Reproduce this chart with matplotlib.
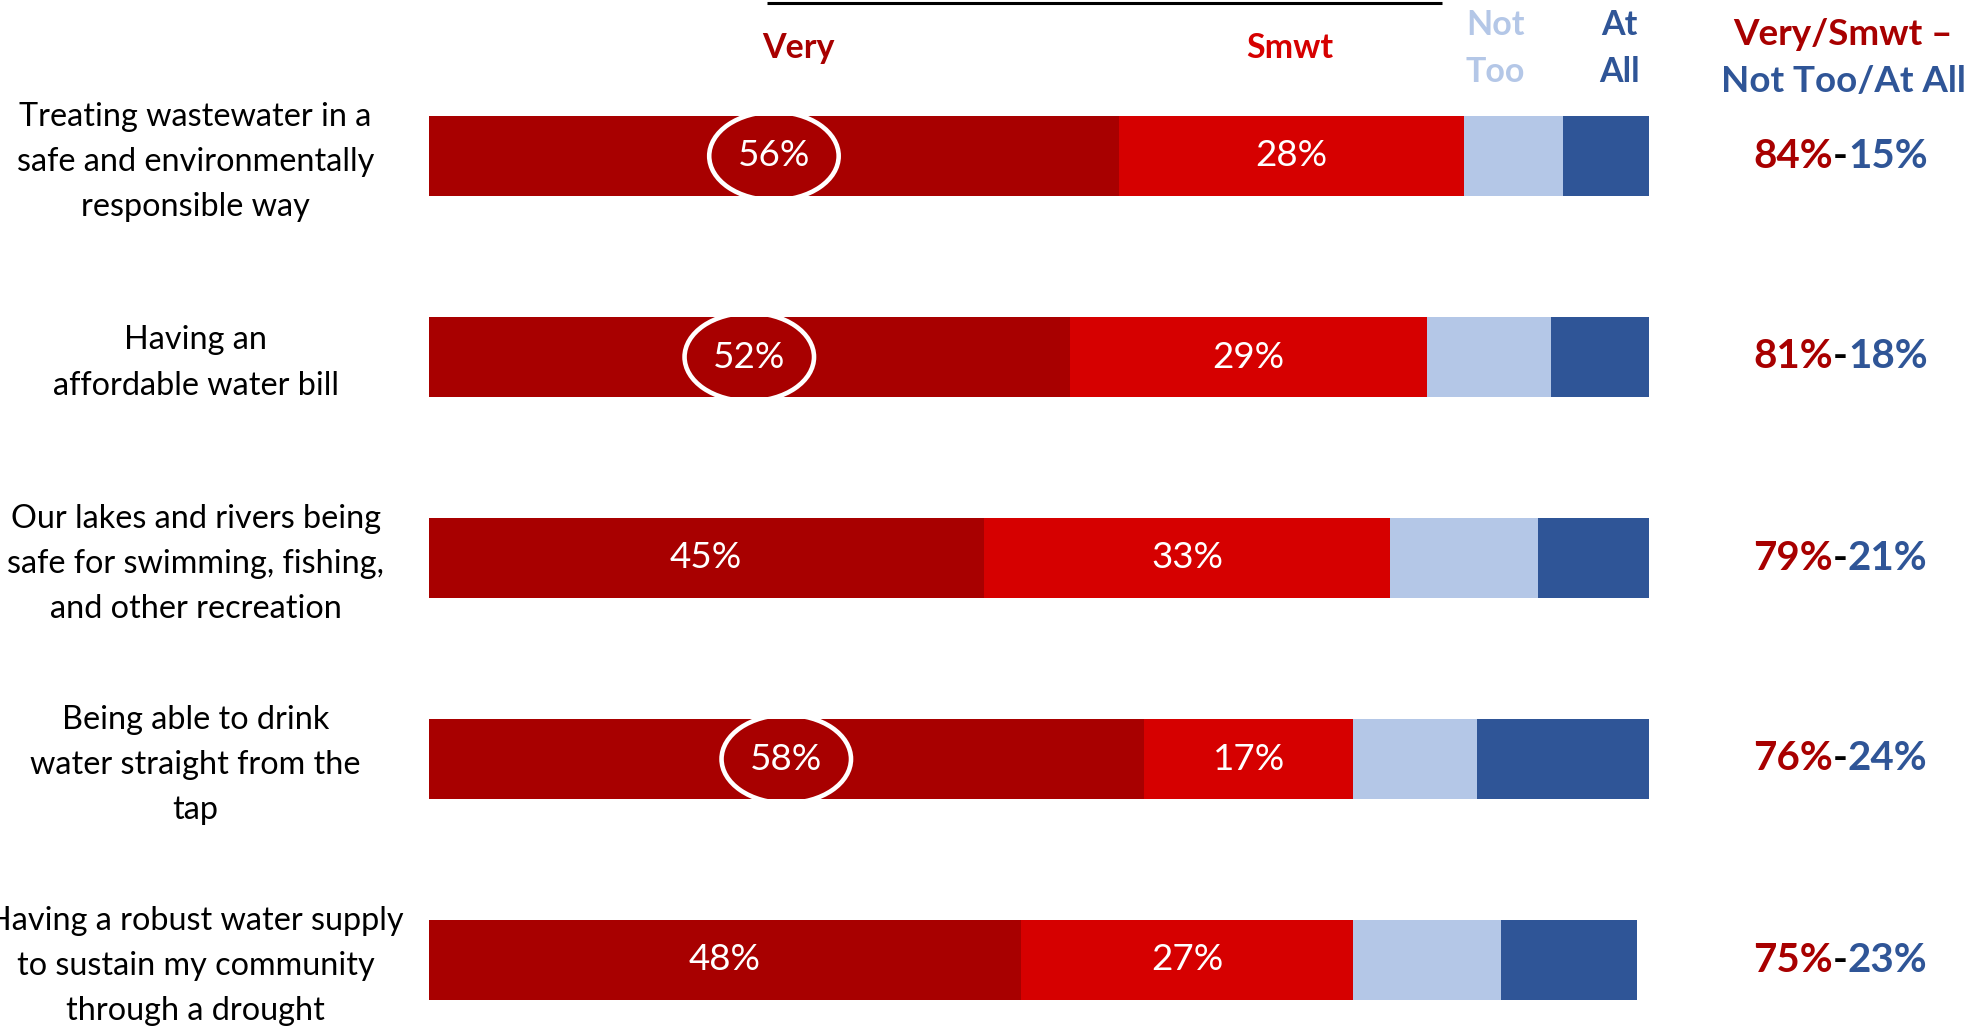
import numpy as np
import matplotlib.pyplot as plt
from matplotlib.patches import Ellipse

plt.rcParams['font.family'] = ['Lato', 'DejaVu Sans']

# survey items, top to bottom
items = ['Treating wastewater in a\nsafe and environmentally\nresponsible way',
         'Having an\naffordable water bill',
         'Our lakes and rivers being\nsafe for swimming, fishing,\nand other recreation',
         'Being able to drink\nwater straight from the\ntap',
         'Having a robust water supply\nto sustain my community\nthrough a drought']

# importance shares (%)
very = [56, 52, 45, 58, 48]
smwt = [28, 29, 33, 17, 27]
not_too = [8, 10, 12, 10, 12]
at_all = [7, 8, 9, 14, 11]

# net totals shown on the right
total_imp = [84, 81, 79, 76, 75]
total_not = [15, 18, 21, 24, 23]

# which "Very" values get circled
circled = [0, 1, 3]

C_VERY = '#A80000'
C_SMWT = '#D60000'
C_NOTTOO = '#B4C7E7'
C_ATALL = '#2F5597'

# canvas in pixels; x axis in percent points, y axis in rows
W, H = 1971, 1028
X0, PX = 428.7, 12.33
Y0, ROW = 156, 201

fig = plt.figure(figsize=(W / 100, H / 100), dpi=100)
ax = fig.add_axes([0, 0, 1, 1])
ax.set_xlim(-X0 / PX, (W - X0) / PX)
ax.set_ylim((H - Y0) / ROW, -Y0 / ROW)
ax.axis('off')

y = np.arange(len(items))
very = np.array(very)
smwt = np.array(smwt)
not_too = np.array(not_too)
at_all = np.array(at_all)

bh = 0.40
ax.barh(y, very, height=bh, color=C_VERY)
ax.barh(y, smwt, left=very, height=bh, color=C_SMWT)
ax.barh(y, not_too, left=very + smwt, height=bh, color=C_NOTTOO)
ax.barh(y, at_all, left=very + smwt + not_too, height=bh, color=C_ATALL)

for i in y:
    ax.text(very[i] / 2, i, f'{very[i]}%', ha='center', va='center',
            color='white', fontsize=26.5)
    ax.text(very[i] + smwt[i] / 2, i, f'{smwt[i]}%', ha='center', va='center',
            color='white', fontsize=26.5)
    if i in circled:
        ax.add_patch(Ellipse((very[i] / 2, i), width=10.5, height=0.44,
                             fill=False, edgecolor='white', lw=3.3))

    # item label on the left
    ax.text(-18.9, i + 0.03, items[i], ha='center', va='center',
            fontsize=23.3, color='black', linespacing=1.64)

    # net value: red total, black dash, blue total
    dash = ax.text(114.5, i, '-', ha='center', va='center', fontsize=29,
                   fontweight='bold', color='black')
    ax.annotate(f'{total_imp[i]}%', xy=(0, 0), xycoords=dash, ha='right',
                va='bottom', fontsize=29, fontweight='bold', color=C_VERY)
    ax.annotate(f'{total_not[i]}%', xy=(1, 0), xycoords=dash, ha='left',
                va='bottom', fontsize=29, fontweight='bold', color=C_ATALL)

# column headers
hy = -0.535
ax.text(30, hy, 'Very', ha='center', va='center', fontsize=24.5,
        fontweight='bold', color=C_VERY)
ax.text(69.8, hy, 'Smwt', ha='center', va='center', fontsize=24.5,
        fontweight='bold', color=C_SMWT)
ax.text(86.5, hy, 'Not\nToo', ha='center', va='center', fontsize=24.5,
        fontweight='bold', color=C_NOTTOO, linespacing=1.55)
ax.text(96.6, hy, 'At\nAll', ha='center', va='center', fontsize=24.5,
        fontweight='bold', color=C_ATALL, linespacing=1.55)
ax.text(114.7, -0.605, 'Very/Smwt \u2013', ha='center', va='center',
        fontsize=26.5, fontweight='bold', color=C_VERY)
ax.text(114.7, -0.373, 'Not Too/At All', ha='center', va='center',
        fontsize=26.5, fontweight='bold', color=C_ATALL)

# rule over the important columns
ax.plot([27.4, 82.2], [-0.759, -0.759], color='black', lw=2.2,
        solid_capstyle='butt')

fig.savefig('out.png', dpi=100)
